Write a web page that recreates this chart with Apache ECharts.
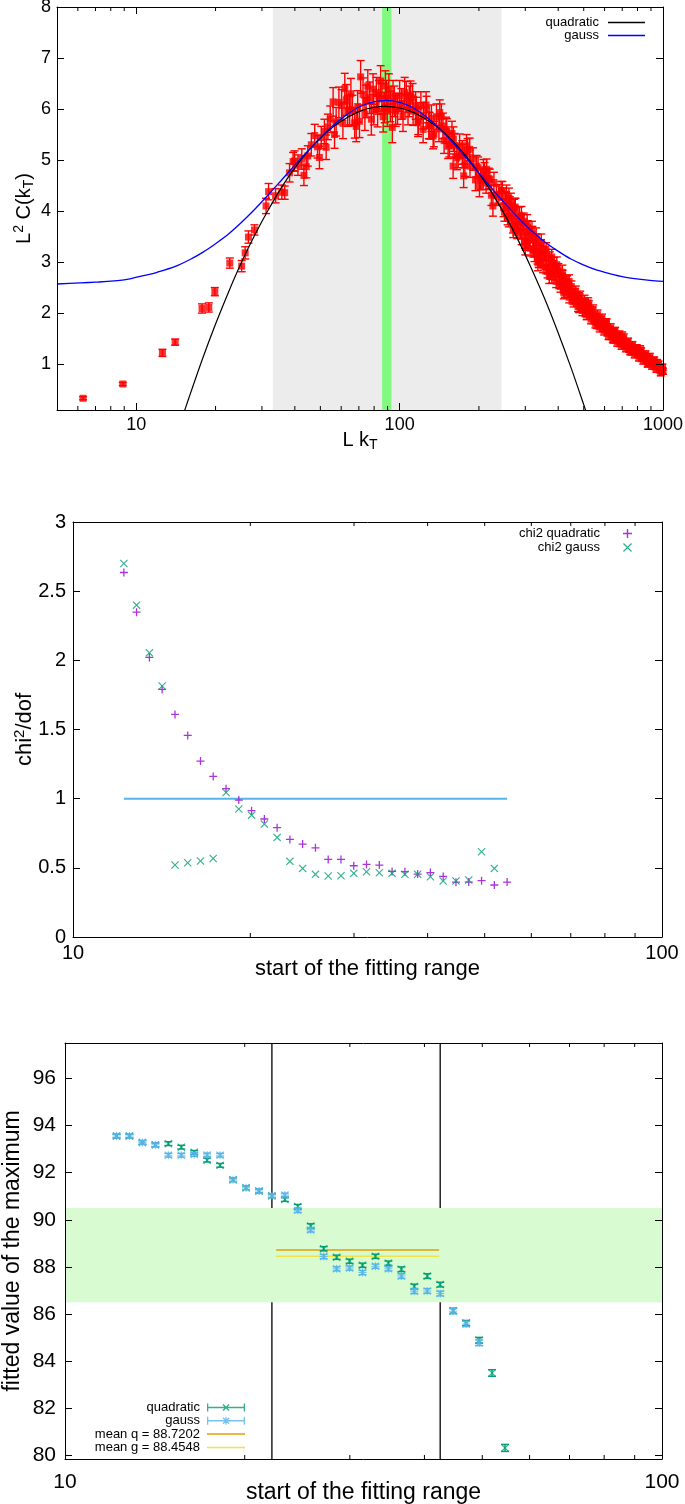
<!DOCTYPE html>
<html>
<head>
<meta charset="utf-8">
<script src="https://cdn.jsdelivr.net/npm/echarts@6/dist/echarts.min.js"></script>
<style>
  html, body { margin: 0; padding: 0; background: #fff; }
  #chart { width: 685px; height: 1504px; }
</style>
</head>
<body>
<div id="chart"></div>
<script>
// ---------- panel 1 : L^2 C(kT) vs L kT ----------
// [L kT, L^2 C, error]
const lowPoints = [
  [6.28, 0.33, 0.03], [8.89, 0.61, 0.03], [12.57, 1.22, 0.07], [14.05, 1.43, 0.06],
  [17.77, 2.09, 0.09], [18.85, 2.11, 0.09], [19.87, 2.42, 0.08], [22.65, 2.98, 0.10],
  [25.13, 2.92, 0.11], [25.91, 3.18, 0.12], [26.66, 3.49, 0.12], [28.10, 3.63, 0.10],
  [31.10, 4.10, 0.15], [31.80, 4.38, 0.16], [33.80, 4.30, 0.14], [35.70, 4.37, 0.14],
  [36.60, 4.36, 0.13]
];
const peakPoints = [
  [38.2, 4.75, .18], [39.4, 4.97, .18], [39.9, 4.98, .2], [41.1, 4.90, .2], [42.5, 5.02, .2],
  [43.3, 4.70, .2], [44.2, 4.87, .22], [44.8, 5.08, .2], [46.2, 5.30, .22], [47.6, 5.48, .22],
  [48.8, 5.26, .22], [49.6, 5.05, .22], [50.4, 5.44, .22], [51.8, 5.56, .24], [52.6, 5.25, .24],
  [53.4, 5.65, .25], [54.5, 5.80, .26], [55.9, 6.14, .28], [56.6, 5.50, .27], [57.4, 5.75, .28],
  [58.8, 6.13, .3], [60.2, 6.08, .3], [60.9, 5.72, .3], [61.9, 6.40, .3], [62.7, 6.18, .3],
  [63.5, 5.96, .3], [64.6, 5.99, .3], [65.3, 6.30, .3], [66.2, 5.97, .3], [67.5, 5.73, .3],
  [68.4, 5.66, .3], [69.3, 6.05, .31], [70.4, 5.76, .32], [71.1, 6.63, .32], [72.6, 6.29, .32],
  [73.8, 5.90, .32], [74.6, 6.15, .32], [75.7, 6.45, .32], [76.9, 6.22, .31], [78.1, 5.80, .31],
  [79.3, 6.39, .3], [79.8, 5.99, .3], [81.6, 6.32, .3], [82.5, 5.95, .3], [83.4, 6.26, .3],
  [84.7, 6.55, .3], [85.6, 6.20, .3], [86.6, 5.85, .3], [87.7, 6.03, .3], [88.3, 6.45, .3],
  [89.0, 6.26, .3], [89.8, 5.96, .3], [91.0, 6.39, .3], [92.2, 6.05, .3], [93.8, 5.64, .3],
  [94.4, 6.26, .3], [95.5, 6.15, .3], [96.6, 5.96, .3], [98.2, 6.00, .3], [100, 6.26, .3],
  [101.5, 6.10, .3], [103, 5.86, .3], [104.5, 6.32, .3], [106, 6.24, .3], [107.6, 5.99, .3],
  [108.8, 6.15, .3]
];
const shoulderPoints = [
  [110, 6.27, .28], [112, 6.22, .28], [112.5, 5.96, .28], [115, 6.07, .27], [115.7, 5.96, .27],
  [117.5, 5.73, .27], [117.7, 5.77, .27], [120.4, 6.07, .27], [122.8, 5.60, .26], [123, 5.87, .26],
  [126, 6.08, .26], [126.5, 5.99, .26], [129, 5.68, .26], [130, 5.67, .26], [132, 5.82, .26],
  [134, 5.47, .25], [135, 5.51, .25], [138, 5.85, .25], [141, 5.61, .25], [142, 5.93, .25],
  [144, 5.85, .25], [146, 5.67, .25], [147.5, 5.38, .25], [150, 5.60, .24], [151, 5.57, .24],
  [152.8, 5.27, .24], [154.5, 5.30, .24], [158, 5.52, .24], [159.6, 4.88, .24], [160, 5.41, .24],
  [161.5, 5.28, .24], [165, 5.04, .23], [166.8, 5.08, .23], [169, 5.28, .23], [173, 5.15, .23],
  [174, 5.08, .23], [175, 4.69, .23], [177, 4.90, .22], [179.5, 5.28, .22], [181, 5.20, .22],
  [184.5, 5.21, .22], [185, 4.88, .22], [190, 5.02, .22], [194, 4.61, .21], [196, 4.88, .21],
  [198.5, 4.85, .21], [201, 4.49, .21], [203, 4.63, .21], [207.5, 4.62, .2], [208, 4.81, .2],
  [210, 4.75, .2], [213, 4.55, .2], [214, 4.82, .2], [218, 4.64, .2], [220, 4.62, .2],
  [223, 4.31, .2], [226, 4.10, .2], [228, 4.56, .2], [233, 4.30, .19], [238, 4.33, .19]
];
const tailPoints = [
  [243, 4.40, .18], [248, 4.07, .18], [252, 4.19, .18], [257, 3.90, .17], [262, 4.11, .17],
  [267, 3.92, .17], [272, 4.06, .17], [277, 3.69, .16], [282, 3.79, .16], [288, 3.63, .16],
  [293, 3.77, .16], [299, 3.42, .15], [304, 3.59, .15], [310, 3.43, .15], [316, 3.54, .15],
  [322, 3.24, .14], [328, 3.36, .14], [334, 3.10, .14], [341, 3.19, .14], [347, 3.05, .13],
  [354, 3.15, .13], [361, 2.90, .13], [368, 2.99, .13], [375, 2.78, .12], [382, 2.91, .12],
  [389, 2.77, .12], [397, 2.82, .12], [404, 2.60, .12], [412, 2.66, .11], [420, 2.50, .11],
  [428, 2.60, .11], [436, 2.41, .11], [445, 2.42, .11], [453, 2.28, .10], [462, 2.38, .10],
  [471, 2.24, .10], [480, 2.30, .10], [489, 2.12, .10], [499, 2.17, .10], [508, 2.03, .10],
  [518, 2.10, .09], [528, 1.97, .09], [538, 2.03, .09], [548, 1.88, .09], [559, 1.90, .09],
  [570, 1.78, .09], [581, 1.85, .09], [592, 1.73, .09], [603, 1.76, .08], [615, 1.63, .08],
  [627, 1.66, .08], [639, 1.56, .08], [651, 1.62, .08], [664, 1.51, .08], [676, 1.54, .08],
  [689, 1.42, .08], [703, 1.47, .08], [716, 1.38, .08], [730, 1.41, .07], [744, 1.30, .07],
  [758, 1.33, .07], [773, 1.25, .07], [788, 1.29, .07], [803, 1.20, .07], [818, 1.22, .07],
  [834, 1.12, .07], [850, 1.15, .07], [866, 1.07, .07], [883, 1.10, .07], [900, 1.03, .07],
  [917, 1.05, .07], [935, 0.95, .06], [953, 0.97, .06], [971, 0.89, .06], [990, 0.88, .06],
  [1000, 0.86, .06]
];
const tailUpper = [
  [245.5, 4.40, .18], [254.5, 4.33, .18], [264.5, 4.18, .17], [274.5, 4.08, .17], [285, 3.92, .16],
  [296, 3.80, .16], [307, 3.66, .15], [319, 3.55, .15], [331, 3.41, .14], [344, 3.30, .14],
  [357.5, 3.18, .13], [371.5, 3.07, .13], [385.5, 2.97, .12], [400.5, 2.85, .12], [416, 2.73, .11],
  [432, 2.62, .11], [449, 2.52, .11], [466.5, 2.43, .10], [484.5, 2.33, .10], [503.5, 2.25, .10],
  [523, 2.15, .09], [543, 2.07, .09], [564.5, 1.97, .09], [586.5, 1.89, .09], [609, 1.80, .08],
  [633, 1.71, .08], [657.5, 1.64, .08], [682.5, 1.57, .08], [709.5, 1.51, .08], [737, 1.44, .07],
  [765.5, 1.37, .07], [795.5, 1.31, .07], [826, 1.25, .07], [858, 1.19, .07], [891.5, 1.14, .07],
  [926, 1.08, .06], [962, 1.00, .06], [995, 0.94, .06]
];
const tailLower = [
  [250, 3.98, .18], [259.5, 3.86, .17], [269.5, 3.74, .17], [279.5, 3.62, .16], [290.5, 3.50, .16],
  [301.5, 3.38, .15], [313, 3.27, .15], [325, 3.15, .14], [337.5, 3.03, .14], [350.5, 2.92, .13],
  [364.5, 2.82, .13], [378.5, 2.71, .12], [393, 2.62, .12], [408, 2.52, .11], [424, 2.42, .11],
  [440.5, 2.31, .11], [457.5, 2.22, .10], [475.5, 2.13, .10], [494, 2.05, .10], [513, 1.96, .09],
  [533, 1.88, .09], [553.5, 1.80, .09], [575.5, 1.72, .09], [597.5, 1.65, .08], [621, 1.56, .08],
  [645, 1.50, .08], [670, 1.43, .08], [696, 1.37, .08], [723, 1.31, .07], [751, 1.25, .07],
  [780.5, 1.19, .07], [810.5, 1.13, .07], [842, 1.07, .07], [874.5, 1.01, .07], [908.5, 0.96, .06],
  [944, 0.90, .06], [980.5, 0.83, .06]
];
const tailSpread = [
  [260, 4.25, .2], [275, 4.05, .2], [290, 3.90, .19], [305, 3.75, .18], [318, 3.62, .18],
  [330, 3.50, .17], [345, 3.38, .17], [360, 3.22, .16], [378, 3.10, .15], [395, 2.95, .15],
  [415, 2.80, .14], [440, 2.62, .13], [270, 3.65, .17], [300, 3.30, .16], [335, 2.98, .15],
  [370, 2.72, .14], [420, 2.40, .12], [480, 2.12, .11], [520, 2.20, .1], [560, 1.80, .1],
  [610, 1.80, .09], [650, 1.50, .09], [700, 1.55, .08], [760, 1.26, .08], [820, 1.28, .08],
  [880, 1.02, .07], [950, 1.02, .07]
];

// fit curves
const quadX = [14.79, 15.85, 17.78, 19.95, 22.39, 25.12, 28.18, 31.62, 35.48, 39.81, 44.67, 50.12,
  56.23, 63.1, 70.79, 79.43, 88.1, 100, 112.2, 125.9, 141.3, 158.5, 177.8, 199.5, 223.9, 251.2,
  281.8, 316.2, 354.8, 398.1, 446.7, 501.2, 524.8];
const quadY = [-0.12, 0.34, 1.08, 1.77, 2.41, 3.00, 3.53, 4.01, 4.45, 4.83, 5.16, 5.43,
  5.66, 5.83, 5.96, 6.03, 6.05, 6.02, 5.94, 5.80, 5.62, 5.38, 5.09, 4.75, 4.36, 3.92,
  3.43, 2.88, 2.29, 1.64, 0.94, 0.19, -0.12];
const gaussX = [5, 7, 9, 11, 12, 14, 16, 18, 20, 22.4, 25, 28, 31.6, 35.5, 40, 45, 50, 56, 63,
  70.8, 79.4, 89, 100, 112, 126, 141, 158, 178, 200, 224, 251, 282, 316, 355, 398, 447, 501,
  562, 631, 708, 794, 891, 1000];
const gaussY = [2.57, 2.605, 2.65, 2.75, 2.80, 2.91, 3.05, 3.20, 3.36, 3.55, 3.77, 4.02, 4.31,
  4.60, 4.90, 5.19, 5.44, 5.68, 5.89, 6.05, 6.14, 6.17, 6.13, 6.03, 5.85, 5.63, 5.36, 5.06,
  4.745, 4.44, 4.15, 3.87, 3.62, 3.40, 3.22, 3.06, 2.94, 2.84, 2.77, 2.71, 2.67, 2.64, 2.62];

const grayRange = [33, 243.6];
const greenRange = [85.8, 93];
const topXRange = [5, 1000];
const topYRange = [0.1, 8];
const topYTicks = [1, 2, 3, 4, 5, 6, 7, 8];
const topMinor = [6, 7, 8, 9, 20, 30, 40, 50, 60, 70, 80, 90, 200, 300, 400, 500, 600, 700, 800, 900];

// ---------- panels 2 and 3 : start of the fitting range ----------
const fitStart = [12.2, 12.82, 13.48, 14.17, 14.9, 15.66, 16.46, 17.3, 18.19, 19.12, 20.1, 21.13,
  22.21, 23.35, 24.54, 25.8, 27.12, 28.51, 29.97, 31.5, 33.12, 34.81, 36.6, 38.47, 40.44, 42.51,
  44.69, 46.98, 49.39, 51.92, 54.58];
const chi2Quad = [2.635, 2.348, 2.021, 1.79, 1.609, 1.457, 1.272, 1.161, 1.072, 0.99, 0.913, 0.853,
  0.79, 0.705, 0.672, 0.645, 0.561, 0.561, 0.515, 0.525, 0.52, 0.474, 0.472, 0.455, 0.466, 0.438,
  0.396, 0.397, 0.407, 0.376, 0.397];
const chi2Gauss = [2.70, 2.399, 2.054, 1.814, 0.52, 0.537, 0.549, 0.568, 1.045, 0.925, 0.881, 0.816,
  0.72, 0.547, 0.496, 0.453, 0.441, 0.443, 0.46, 0.472, 0.465, 0.46, 0.453, 0.453, 0.436, 0.405,
  0.405, 0.412, 0.616, 0.496, null];
const chi2Target = 1;
const chi2YRange = [0, 3];
const chi2YTicks = [0, 0.5, 1, 1.5, 2, 2.5, 3];

const maxQuad = [93.55, 93.55, 93.28, 93.18, 93.23, 93.08, 92.86, 92.53, 92.31, 91.70, 91.36, 91.22,
  91.02, 90.86, 90.56, 89.74, 88.77, 88.41, 88.24, 88.07, 88.45, 88.16, 87.90, 87.17, 87.61, 87.25,
  86.14, 85.62, 84.89, 83.50, 80.32];
const errQuad = [0.08, 0.08, 0.08, 0.08, 0.08, 0.08, 0.08, 0.08, 0.08, 0.08, 0.08, 0.08,
  0.08, 0.08, 0.09, 0.09, 0.09, 0.09, 0.09, 0.09, 0.09, 0.09, 0.1, 0.1, 0.1, 0.1,
  0.11, 0.11, 0.12, 0.14, 0.15];
const maxGauss = [93.55, 93.55, 93.28, 93.18, 92.74, 92.74, 92.77, 92.75, 92.74, 91.70, 91.36, 91.22,
  91.02, 91.05, 90.40, 89.57, 88.44, 87.92, 87.95, 87.76, 88.03, 87.92, 87.61, 86.97, 86.98, 86.87,
  86.12, 85.58, 84.78, null, null];
const errGauss = [0.08, 0.08, 0.08, 0.08, 0.08, 0.08, 0.08, 0.08, 0.08, 0.08, 0.08, 0.08,
  0.08, 0.08, 0.09, 0.09, 0.09, 0.09, 0.09, 0.09, 0.09, 0.09, 0.1, 0.1, 0.1, 0.1,
  0.11, 0.11, 0.12, null, null];
const meanQ = 88.7202;
const meanG = 88.4548;
const meanRange = [22.58, 42.34];
const fitWindow = [22.21, 42.51];
const bandMax = [86.5, 90.5];
const fitXRange = [10, 100];
const maxYRange = [79.85, 97.5];
const maxYTicks = [80, 82, 84, 86, 88, 90, 92, 94, 96];
const fitMinor = [20, 30, 40, 50, 60, 70, 80, 90];

const FONT = '"Liberation Sans", Arial, sans-serif';
const PLUS = 'path://M4.2,0H5.8V4.2H10V5.8H5.8V10H4.2V5.8H0V4.2H4.2Z';
const CROSS = 'path://M0,1L1,0L5,4L9,0L10,1L6,5L10,9L9,10L5,6L1,10L0,9L4,5Z';
const STAR = 'path://M0,1L1,0L4.4,3.4V0H5.6V3.4L9,0L10,1L6.6,4.4H10V5.6H6.6L10,9L9,10L5.6,6.6V10H4.4V6.6L1,10L0,9L3.4,5.6H0V4.4H3.4Z';
const BAR = 'M0,0H1.3V3.3H36.7V0H38V8H36.7V4.7H1.3V8H0Z';
const QUAD_ICON = 'path://' + BAR + 'M15.5,1.5L16.5,0.5L19,3L21.5,0.5L22.5,1.5L20,4L22.5,6.5L21.5,7.5L19,5L16.5,7.5L15.5,6.5L18,4Z';
const GAUSS_ICON = 'path://' + BAR + 'M15.5,1.5L16.5,0.5L19,3L21.5,0.5L22.5,1.5L20,4L22.5,6.5L21.5,7.5L19,5L16.5,7.5L15.5,6.5L18,4ZM18.4,0H19.6V8H18.4Z';
const LINE_ICON = 'path://M0,0H38V1.5H0Z';

const chart = echarts.init(document.getElementById('chart'));

function xAxisPair(grid, range, fontSize, margin, name, nameGap, nameSize, rich, hideMin) {
  const base = {
    type: 'log', logBase: 10, gridIndex: grid, min: range[0], max: range[1], z: 10,
    axisLine: { show: true, onZero: false, lineStyle: { color: '#000', width: 1 } },
    axisTick: { show: true, inside: true, length: 7, lineStyle: { color: '#000' } },
    splitLine: { show: false }
  };
  return [
    Object.assign({}, base, {
      position: 'bottom', name, nameLocation: 'middle', nameGap, nameMoveOverlap: false,
      nameTextStyle: { fontFamily: FONT, fontSize: nameSize, color: '#000', rich },
      axisLabel: { fontFamily: FONT, fontSize, color: '#000', margin, showMinLabel: !hideMin,
        formatter: v => String(v) }
    }),
    Object.assign({}, base, { position: 'top', axisLabel: { show: false } })
  ];
}

function yAxisPair(grid, range, ticks, fontSize, margin, name, nameGap, nameSize, rich, labelPad) {
  const base = {
    type: 'value', gridIndex: grid, min: range[0], max: range[1], z: 10,
    axisLine: { show: true, onZero: false, lineStyle: { color: '#000', width: 1 } },
    axisTick: { show: true, inside: true, length: 7, customValues: ticks, lineStyle: { color: '#000' } },
    splitLine: { show: false }
  };
  return [
    Object.assign({}, base, {
      position: 'left', name, nameLocation: 'middle', nameGap, nameMoveOverlap: false,
      nameTextStyle: { fontFamily: FONT, fontSize: nameSize, color: '#000', rich },
      axisLabel: { fontFamily: FONT, fontSize, color: '#000', margin, customValues: ticks,
        padding: labelPad || 0 }
    }),
    Object.assign({}, base, { position: 'right', axisLabel: { show: false } })
  ];
}

function minorTicks(axisIdx, values, yRef) {
  return {
    type: 'custom', xAxisIndex: axisIdx, yAxisIndex: axisIdx, silent: true, z: 10,
    data: values.map(v => [v, yRef]),
    encode: { x: 0, y: 1 },
    renderItem: (params, api) => {
      const cs = params.coordSys;
      const x = api.coord([api.value(0), api.value(1)])[0];
      const st = { stroke: '#000', lineWidth: 1 };
      return { type: 'group', children: [
        { type: 'line', shape: { x1: x, y1: cs.y + cs.height, x2: x, y2: cs.y + cs.height - 4 }, style: st },
        { type: 'line', shape: { x1: x, y1: cs.y, x2: x, y2: cs.y + 4 }, style: st }
      ] };
    }
  };
}

function errorBars(axisIdx, data, color, capHalf, width, z) {
  return {
    type: 'custom', xAxisIndex: axisIdx, yAxisIndex: axisIdx, silent: true, z,
    data, encode: { x: 0, y: 1 },
    itemStyle: { color },
    renderItem: (params, api) => {
      const x = api.value(0), y = api.value(1), e = api.value(2);
      if (y == null || isNaN(y)) return;
      const lo = api.coord([x, y - e]);
      const hi = api.coord([x, y + e]);
      const st = { stroke: color, lineWidth: width };
      return { type: 'group', children: [
        { type: 'line', shape: { x1: lo[0], y1: lo[1], x2: hi[0], y2: hi[1] }, style: st },
        { type: 'line', shape: { x1: lo[0] - capHalf, y1: lo[1], x2: lo[0] + capHalf, y2: lo[1] }, style: st },
        { type: 'line', shape: { x1: hi[0] - capHalf, y1: hi[1], x2: hi[0] + capHalf, y2: hi[1] }, style: st }
      ] };
    }
  };
}

function legendStyle(gap) {
  return {
    fontFamily: FONT, fontSize: 13, color: '#000', lineHeight: 13,
    rich: { t: { fontFamily: FONT, fontSize: 13, color: '#000', lineHeight: 13, padding: [0, gap, 0, 0] } }
  };
}

const topPoints = lowPoints.concat(peakPoints, shoulderPoints, tailPoints, tailUpper, tailLower, tailSpread);
const quadErr = fitStart.map((x, i) => [x, maxQuad[i], errQuad[i]]);
const gaussErr = fitStart.map((x, i) => [x, maxGauss[i], errGauss[i]]);

const subRich = {
  m: { fontFamily: FONT, fontSize: 20, lineHeight: 24, verticalAlign: 'middle', color: '#000' },
  s: { fontFamily: FONT, fontSize: 14, lineHeight: 10, verticalAlign: 'bottom', color: '#000' },
  p: { fontFamily: FONT, fontSize: 14, lineHeight: 10, verticalAlign: 'top', color: '#000' }
};
const chiRich = {
  m: { fontFamily: FONT, fontSize: 22, lineHeight: 26, verticalAlign: 'middle', color: '#000' },
  p: { fontFamily: FONT, fontSize: 15, lineHeight: 10, verticalAlign: 'top', color: '#000' }
};

const option = {
  animation: false,
  backgroundColor: '#fff',
  grid: [
    { left: 57, right: 22, top: 7, height: 403, outerBoundsMode: 'none', containLabel: false },
    { left: 73, right: 23, top: 522, height: 415, outerBoundsMode: 'none', containLabel: false },
    { left: 65, right: 23, top: 1043, height: 416, outerBoundsMode: 'none', containLabel: false }
  ],
  xAxis: [].concat(
    xAxisPair(0, topXRange, 18, 6, '{m|L k}{s|T}', 18, 20, subRich, true),
    xAxisPair(1, fitXRange, 20, 6, 'start of the fitting range', 21, 22, null, false),
    xAxisPair(2, fitXRange, 21, 13, 'start of the fitting range', 22, 23, null, false)
  ),
  yAxis: [].concat(
    yAxisPair(0, topYRange, topYTicks, 18, 6, '{m|L}{p|2}{m| C(k}{s|T}{m|)}', 21, 20, subRich, [3, 0, 0, 0]),
    yAxisPair(1, chi2YRange, chi2YTicks, 20, 7, '{m|chi}{p|2}{m|/dof}', 35, 22, chiRich),
    yAxisPair(2, maxYRange, maxYTicks, 21, 9, 'fitted value of the maximum', 41, 23, null)
  ),
  legend: [
    {
      right: 40, top: 16, padding: 0, orient: 'vertical', align: 'right', itemWidth: 37, itemHeight: 13,
      itemGap: 0, selectedMode: false, textStyle: legendStyle(4),
      formatter: name => '{t|' + name + '}',
      data: [{ name: 'quadratic', icon: LINE_ICON }, { name: 'gauss', icon: LINE_ICON }]
    },
    {
      right: 53, top: 527, padding: 0, orient: 'vertical', align: 'right', itemWidth: 9, itemHeight: 9,
      itemGap: 1, selectedMode: false, textStyle: legendStyle(18),
      formatter: name => '{t|' + name + '}',
      data: [{ name: 'chi2 quadratic', icon: PLUS }, { name: 'chi2 gauss', icon: CROSS }]
    },
    {
      right: 440, top: 1401, padding: 0, orient: 'vertical', align: 'right', itemWidth: 38, itemHeight: 8,
      itemGap: 0.3, selectedMode: false, textStyle: legendStyle(2),
      formatter: name => '{t|' + name.replace('max ', '') + '}',
      data: [{ name: 'max quadratic', icon: QUAD_ICON }, { name: 'max gauss', icon: GAUSS_ICON },
        { name: 'mean q = ' + meanQ, icon: LINE_ICON }, { name: 'mean g = ' + meanG, icon: LINE_ICON }]
    }
  ],
  series: [
    // panel 1
    {
      type: 'line', xAxisIndex: 0, yAxisIndex: 0, data: [], silent: true,
      markArea: { silent: true, data: [
        [{ xAxis: grayRange[0], itemStyle: { color: '#ececec' } }, { xAxis: grayRange[1] }],
        [{ xAxis: greenRange[0], itemStyle: { color: '#80fb80' } }, { xAxis: greenRange[1] }]
      ] }
    },
    errorBars(0, topPoints, '#ff0000', 4, 1.4, 3),
    {
      type: 'scatter', xAxisIndex: 0, yAxisIndex: 0, z: 3, silent: true,
      symbol: 'rect', symbolSize: 7, itemStyle: { color: '#ff0000' },
      data: topPoints.map(p => [p[0], p[1]])
    },
    {
      name: 'quadratic', type: 'line', xAxisIndex: 0, yAxisIndex: 0, z: 4, silent: true,
      showSymbol: false, symbol: 'none', smooth: 0.3, color: '#000',
      lineStyle: { color: '#000', width: 1.2 },
      data: quadX.map((x, i) => [x, quadY[i]])
    },
    {
      name: 'gauss', type: 'line', xAxisIndex: 0, yAxisIndex: 0, z: 4, silent: true,
      showSymbol: false, symbol: 'none', smooth: 0.3, color: '#0000ff',
      lineStyle: { color: '#0000ff', width: 1.3 },
      data: gaussX.map((x, i) => [x, gaussY[i]])
    },
    minorTicks(0, topMinor, topYTicks[0]),

    // panel 2
    {
      type: 'line', xAxisIndex: 2, yAxisIndex: 2, silent: true, symbol: 'none', z: 2,
      lineStyle: { color: '#56b4e9', width: 2 },
      data: [[fitStart[0], chi2Target], [fitStart[fitStart.length - 1], chi2Target]]
    },
    {
      name: 'chi2 quadratic', type: 'scatter', xAxisIndex: 2, yAxisIndex: 2, z: 3, silent: true,
      symbol: PLUS, symbolSize: 8, itemStyle: { color: '#9400d3' },
      data: fitStart.map((x, i) => [x, chi2Quad[i]])
    },
    {
      name: 'chi2 gauss', type: 'scatter', xAxisIndex: 2, yAxisIndex: 2, z: 3, silent: true,
      symbol: CROSS, symbolSize: 8, itemStyle: { color: '#009e73' },
      data: fitStart.map((x, i) => [x, chi2Gauss[i]])
    },
    minorTicks(2, fitMinor, chi2Target),

    // panel 3
    ...fitWindow.map(x => ({
      type: 'line', xAxisIndex: 4, yAxisIndex: 4, z: 1, silent: true, symbol: 'none',
      lineStyle: { color: '#222', width: 1.5 },
      data: [[x, maxYRange[0]], [x, maxYRange[1]]]
    })),
    {
      type: 'custom', xAxisIndex: 4, yAxisIndex: 4, z: 2, silent: true,
      data: [[fitXRange[0], bandMax[0], bandMax[1]]],
      encode: { x: 0, y: [1, 2] },
      renderItem: (params, api) => {
        const cs = params.coordSys;
        const lo = api.coord([api.value(0), api.value(1)]);
        const hi = api.coord([api.value(0), api.value(2)]);
        return { type: 'rect', shape: { x: cs.x, y: hi[1], width: cs.width, height: lo[1] - hi[1] },
          style: { fill: '#d8fbd2' } };
      }
    },
    {
      name: 'mean q = ' + meanQ, type: 'line', xAxisIndex: 4, yAxisIndex: 4, z: 3, silent: true,
      symbol: 'none', color: '#e69f00', lineStyle: { color: '#e69f00', width: 1.5 },
      data: [[meanRange[0], meanQ], [meanRange[1], meanQ]]
    },
    {
      name: 'mean g = ' + meanG, type: 'line', xAxisIndex: 4, yAxisIndex: 4, z: 3, silent: true,
      symbol: 'none', color: '#f0e442', lineStyle: { color: '#f0e442', width: 1.5 },
      data: [[meanRange[0], meanG], [meanRange[1], meanG]]
    },
    errorBars(4, quadErr, '#009e73', 4, 1.4, 4),
    {
      name: 'max quadratic', type: 'scatter', xAxisIndex: 4, yAxisIndex: 4, z: 4, silent: true,
      symbol: CROSS, symbolSize: 8, itemStyle: { color: '#009e73' },
      data: fitStart.map((x, i) => [x, maxQuad[i]])
    },
    errorBars(4, gaussErr, '#56b4e9', 4, 1.4, 5),
    {
      name: 'max gauss', type: 'scatter', xAxisIndex: 4, yAxisIndex: 4, z: 5, silent: true,
      symbol: STAR, symbolSize: 8, itemStyle: { color: '#56b4e9' },
      data: fitStart.map((x, i) => [x, maxGauss[i]])
    },
    minorTicks(4, fitMinor, maxYTicks[4])
  ]
};

chart.setOption(option);
</script>
</body>
</html>
